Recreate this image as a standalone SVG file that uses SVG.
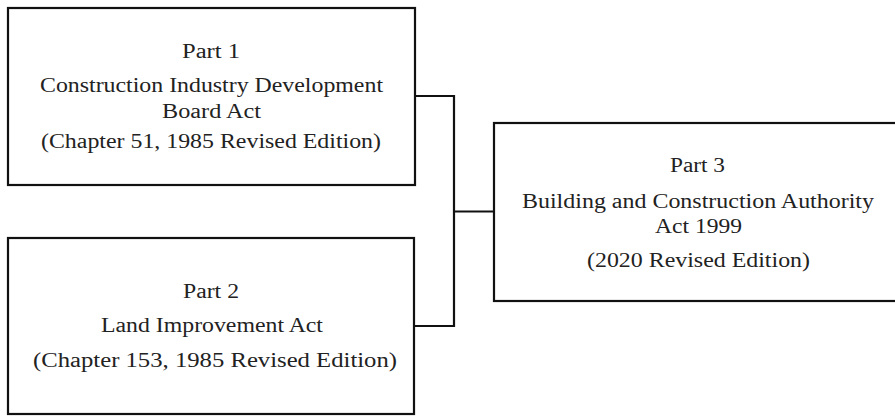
<svg xmlns="http://www.w3.org/2000/svg" width="895" height="418" viewBox="0 0 895 418">
<style>
.box{fill:#fff;stroke:#111;stroke-width:2.2}
.t{font-family:"Liberation Serif","Times New Roman",serif;font-size:20px;fill:#222;text-anchor:middle}
.c{fill:none;stroke:#111;stroke-width:2.2}
</style>
<rect width="895" height="418" fill="#fff"/>
<g id="connectors">
<polyline class="c" points="415,96 454,96 454,326 415,326"/>
<line class="c" x1="454" y1="211.5" x2="494" y2="211.5"/>
</g>
<g id="part1">
<rect class="box" x="8" y="8" width="407" height="177"/>
<text class="t" x="211" y="58" textLength="58" lengthAdjust="spacingAndGlyphs">Part 1</text>
<text class="t" x="211.5" y="92" textLength="343" lengthAdjust="spacingAndGlyphs">Construction Industry Development</text>
<text class="t" x="211.5" y="118" textLength="99" lengthAdjust="spacingAndGlyphs">Board Act</text>
<text class="t" x="211" y="148" textLength="340" lengthAdjust="spacingAndGlyphs">(Chapter 51, 1985 Revised Edition)</text>
</g>
<g id="part2">
<rect class="box" x="8" y="238" width="406" height="176"/>
<text class="t" x="211" y="298" textLength="56" lengthAdjust="spacingAndGlyphs">Part 2</text>
<text class="t" x="212" y="332" textLength="222" lengthAdjust="spacingAndGlyphs">Land Improvement Act</text>
<text class="t" x="215" y="367" textLength="364" lengthAdjust="spacingAndGlyphs">(Chapter 153, 1985 Revised Edition)</text>
</g>
<g id="part3">
<rect class="box" x="494" y="123" width="408" height="178"/>
<text class="t" x="697.5" y="172" textLength="55" lengthAdjust="spacingAndGlyphs">Part 3</text>
<text class="t" x="698" y="208" textLength="352" lengthAdjust="spacingAndGlyphs">Building and Construction Authority</text>
<text class="t" x="698.5" y="233" textLength="87" lengthAdjust="spacingAndGlyphs">Act 1999</text>
<text class="t" x="698.5" y="267" textLength="223" lengthAdjust="spacingAndGlyphs">(2020 Revised Edition)</text>
</g>
</svg>
